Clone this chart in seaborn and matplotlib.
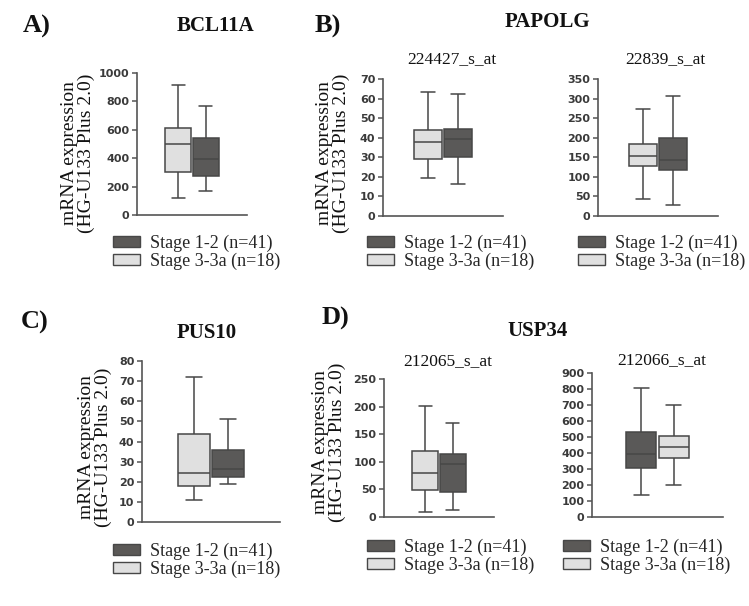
import matplotlib

matplotlib.use("Agg")

import matplotlib.pyplot as plt
from matplotlib.patches import Patch
import pandas as pd
import seaborn as sns

# five-number summaries: whisker low, Q1, median, Q3, whisker high
EARLY = "Stage 1-2 (n=41)"
LATE = "Stage 3-3a (n=18)"

BCL11A_EARLY = [169, 276, 393, 539, 766]
BCL11A_LATE = [117, 304, 499, 614, 913]
PAPOLG_224427_EARLY = [16.6, 30.2, 39.3, 44.4, 62.1]
PAPOLG_224427_LATE = [19.3, 29.2, 37.7, 43.9, 63.2]
PAPOLG_22839_EARLY = [29, 117, 144, 199, 307]
PAPOLG_22839_LATE = [44, 129, 154, 185, 273]
PUS10_EARLY = [19.1, 22.6, 26.1, 35.9, 51.3]
PUS10_LATE = [11.1, 17.9, 24.1, 43.8, 71.9]
USP34_212065_EARLY = [12.7, 45.3, 95.4, 113.5, 171]
USP34_212065_LATE = [9.7, 49.5, 79, 119.6, 200.5]
USP34_212066_EARLY = [140, 306, 391, 530, 806]
USP34_212066_LATE = [203, 368, 435, 506, 697]

DARK = "#5b5957"
LIGHT = "#e0e0e0"
EDGE = "#474747"
AXIS = "#555555"
SERIF = "Liberation Serif"

sns.set_theme(style="white")
plt.rcParams["font.family"] = ["DejaVu Sans"]

W, H = 749, 606
fig = plt.figure(figsize=(W / 100, H / 100), dpi=100)


def rect(x0, x1, y0, y1):
    return [x0 / W, 1 - y1 / H, (x1 - x0) / W, (y1 - y0) / H]


def panel(box, early, late, ymax, step, late_first=True):
    ax = fig.add_axes(rect(*box))
    df = pd.DataFrame(
        {
            "probe": ["p"] * 10,
            "stage": [EARLY] * 5 + [LATE] * 5,
            "value": early + late,
        }
    )
    order = [LATE, EARLY] if late_first else [EARLY, LATE]
    sns.boxplot(
        data=df,
        x="probe",
        y="value",
        hue="stage",
        hue_order=order,
        palette={EARLY: DARK, LATE: LIGHT},
        width=0.5,
        gap=0.07,
        whis=(0, 100),
        linecolor=EDGE,
        linewidth=1.1,
        legend=False,
        ax=ax,
    )
    ax.set_xlim(-0.5, 0.5)
    ax.set_ylim(0, ymax)
    ax.set_yticks(range(0, ymax + 1, step))
    ax.set_xticks([])
    ax.set_xlabel("")
    ax.set_ylabel("")
    for side in ("top", "right"):
        ax.spines[side].set_visible(False)
    for side in ("left", "bottom"):
        ax.spines[side].set_color(AXIS)
        ax.spines[side].set_linewidth(1.2)
    ax.tick_params(axis="y", left=True, length=3.5, width=1.1, color=AXIS,
                   pad=2, labelsize=8, labelcolor="#3a3a3a")
    for lbl in ax.get_yticklabels():
        lbl.set_fontweight("bold")
    return ax


def legend(ax, x, y):
    handles = [
        Patch(facecolor=DARK, edgecolor=EDGE, linewidth=1.0),
        Patch(facecolor=LIGHT, edgecolor=EDGE, linewidth=1.0),
    ]
    ax.legend(
        handles,
        [EARLY, LATE],
        loc="upper left",
        bbox_to_anchor=(x / W, 1 - y / H),
        bbox_transform=fig.transFigure,
        frameon=False,
        borderpad=0,
        borderaxespad=0,
        handlelength=1.5,
        handleheight=0.55,
        handletextpad=0.55,
        labelspacing=0.0,
        prop={"family": SERIF, "size": 13},
    )


def ylabel(x, y):
    fig.text(x / W, 1 - y / H, "mRNA expression\n(HG-U133 Plus 2.0)",
             rotation=90, ha="center", va="center", multialignment="center",
             family=SERIF, fontsize=14, linespacing=1.0, color="#111111")


def text(x, y, s, size, bold=False):
    fig.text(x / W, 1 - y / H, s, ha="center", va="center", family=SERIF,
             fontsize=size, fontweight="bold" if bold else "normal", color="#111111")


# A) BCL11A
ax = panel((137, 247, 73, 215), BCL11A_EARLY, BCL11A_LATE, 1000, 200)
legend(ax, 113, 235)
ylabel(78, 153)
text(37, 26, "A)", 19, bold=True)
text(216, 26, "BCL11A", 15, bold=True)

# B) PAPOLG
ax = panel((383, 503, 79, 216), PAPOLG_224427_EARLY, PAPOLG_224427_LATE, 70, 10)
legend(ax, 367, 235)
ylabel(333, 153)
text(452, 59, "224427_s_at", 12.5)
ax = panel((598, 718, 79, 216), PAPOLG_22839_EARLY, PAPOLG_22839_LATE, 350, 50)
legend(ax, 578, 235)
text(665, 59, "22839_s_at", 12.5)
text(328, 26, "B)", 19, bold=True)
text(547, 22, "PAPOLG", 15, bold=True)

# C) PUS10
ax = panel((142, 280, 361, 522), PUS10_EARLY, PUS10_LATE, 80, 10)
legend(ax, 113, 543)
ylabel(95, 447)
text(35, 322, "C)", 19, bold=True)
text(207, 333, "PUS10", 15, bold=True)

# D) USP34
ax = panel((384, 494, 379, 517), USP34_212065_EARLY, USP34_212065_LATE, 250, 50)
legend(ax, 367, 539)
ylabel(329, 442)
text(448, 361, "212065_s_at", 12.5)
ax = panel((592, 723, 373, 517), USP34_212066_EARLY, USP34_212066_LATE, 900, 100,
           late_first=False)
legend(ax, 563, 539)
text(662, 360, "212066_s_at", 12.5)
text(335, 318, "D)", 19, bold=True)
text(538, 331, "USP34", 15, bold=True)

fig.savefig("out.png", dpi=100, facecolor="white")
